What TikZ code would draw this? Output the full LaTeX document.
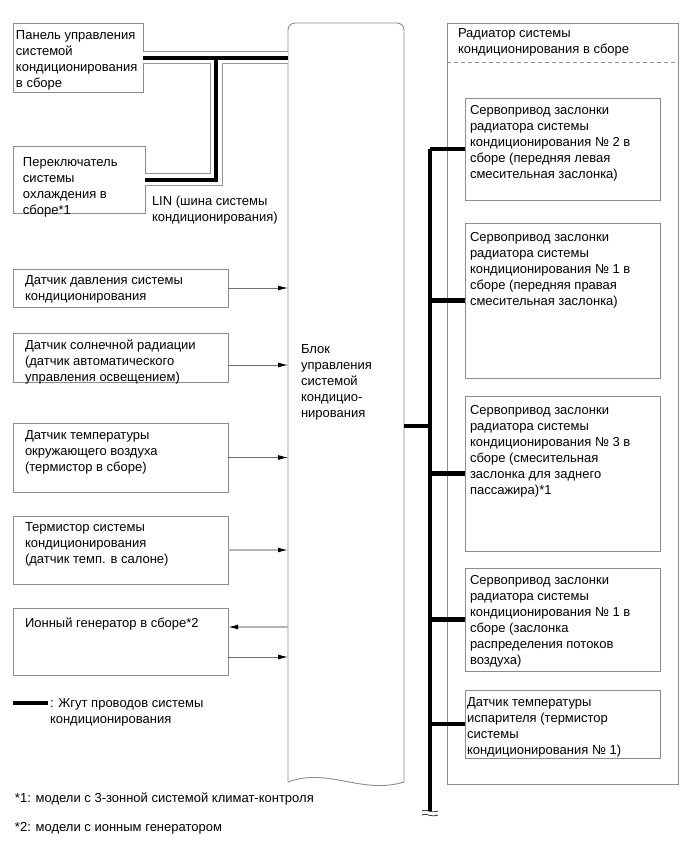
\documentclass[tikz,border=0pt]{standalone}
\usepackage{fontspec}
\setmainfont{Liberation Sans}
\usetikzlibrary{arrows.meta}
\definecolor{bordgray}{RGB}{140,140,140}
\definecolor{linegray}{RGB}{110,110,110}
\definecolor{lightline}{RGB}{180,180,180}
\definecolor{harngray}{RGB}{150,150,150}
\newcommand\ml[1]{\begin{tabular}[t]{@{}l@{}}#1\end{tabular}}
\newcommand\mybox[5]{\node[box, minimum width=#4pt, minimum height=#5pt] (#1) at (#2,#3) {};}
\begin{document}
\begin{tikzpicture}[x=1pt,y=-1pt,
  box/.style={draw=bordgray, line width=0.9pt, rectangle, inner sep=0pt, outer sep=0pt, anchor=north west},
  txt/.style={inner sep=0pt, outer sep=0pt, anchor=base west, font=\fontsize{13}{16}\selectfont},
  arr/.style={draw=linegray, line width=0.9pt, -{Latex[length=10pt,width=5pt,color=black]}},
  arrlt/.style={arr, draw=lightline, line width=1.3pt},
  bus/.style={line width=4.5pt, black},
  cbline/.style={draw=bordgray, line width=0.9pt}]
\useasboundingbox[fill=white] (0,0) rectangle (691,855);

% left boxes
\mybox{s1}{13}{23}{130}{69}
\mybox{s2}{13}{146}{132}{67}
\mybox{s3}{13}{269}{215}{38}
\mybox{s4}{13}{333}{215}{49}
\mybox{s5}{13}{423}{215}{69}
\mybox{s6}{13}{516}{215}{68}
\mybox{s7}{13}{608}{215}{67}

% control block
\node[rectangle, draw=none, inner sep=0pt, outer sep=0pt, anchor=north west,
      minimum width=116pt, minimum height=759pt] (cb) at (288,23) {};
\draw[cbline, rounded corners=7pt] (cb.south west) -- (cb.north west) -- (cb.north east) -- (cb.south east);
\draw[cbline] (cb.south east) .. controls +(-42,13) and +(40,-15) .. (cb.south west);

% radiator assembly
\mybox{rad}{447}{23}{231}{761}
\draw[bordgray, line width=0.9pt, dash pattern=on 4pt off 3pt] (rad.west |- 0,62) -- (rad.east |- 0,62);
\mybox{rA}{465}{98}{195}{102}
\mybox{rB}{465}{223}{195}{155}
\mybox{rC}{465}{396}{195}{155}
\mybox{rD}{465}{568}{195}{103}
\mybox{rE}{465}{690}{195}{68}

% texts
\node[txt] (t1) at (16,39) {\ml{Панель управления\\системой\\кондиционирования\\в сборе}};
\node[txt] (t2) at (23,166) {\ml{Переключатель\\системы\\охлаждения в\\сборе*1}};
\node[txt] (lin) at (152,205) {\ml{LIN (шина системы\\кондиционирования)}};
\node[txt] (t3) at (25,284) {\ml{Датчик давления системы\\кондиционирования}};
\node[txt] (t4) at (25,349) {\ml{Датчик солнечной радиации\\(датчик автоматического\\управления освещением)}};
\node[txt] (t5) at (25,439) {\ml{Датчик температуры\\окружающего воздуха\\(термистор в сборе)}};
\node[txt] (t6) at (25,531) {\ml{Термистор системы\\кондиционирования\\(датчик темп. в салоне)}};
\node[txt] (t7) at (25,627) {\ml{Ионный генератор в сборе*2}};
\node[txt] (cbt) at (301,353) {\ml{Блок\\управления\\системой\\кондицио-\\нирования}};
\node[txt] (radt) at (458,37) {\ml{Радиатор системы\\кондиционирования в сборе}};
\node[txt] (tA) at (470,114) {\ml{Сервопривод заслонки\\радиатора системы\\кондиционирования № 2 в\\сборе (передняя левая\\смесительная заслонка)}};
\node[txt] (tB) at (470,241) {\ml{Сервопривод заслонки\\радиатора системы\\кондиционирования № 1 в\\сборе (передняя правая\\смесительная заслонка)}};
\node[txt] (tC) at (470,414) {\ml{Сервопривод заслонки\\радиатора системы\\кондиционирования № 3 в\\сборе (смесительная\\заслонка для заднего\\пассажира)*1}};
\node[txt] (tD) at (470,584) {\ml{Сервопривод заслонки\\радиатора системы\\кондиционирования № 1 в\\сборе (заслонка\\распределения потоков\\воздуха)}};
\node[txt] (tE) at (467,706) {\ml{Датчик температуры\\испарителя (термистор\\системы\\кондиционирования № 1)}};
\node[txt] (lgt) at (50,707) {\ml{: Жгут проводов системы\\кондиционирования}};
\node[txt] (fn1) at (15,802) {*1: модели с 3-зонной системой климат-контроля};
\node[txt] (fn2) at (15,831) {*2: модели с ионным генератором};

% LIN harness
\coordinate (hj) at (216,0);
\foreach \c/\w in {harngray/13, white/11, black/4}{
  \draw[line width=\w pt, draw=\c, line join=miter] (s1.east) -- (s1.east -| cb.west);
  \draw[line width=\w pt, draw=\c, line join=miter] (hj |- s1.east) -- (hj |- s2.east) -- (s2.east);
}

% sensor arrows
\draw[arr] (s3.east) -- (s3.east -| cb.west);
\draw[arr] ([yshift=-7.5pt]s4.east) -- ([yshift=-7.5pt]s4.east -| cb.west);
\draw[arr] (s5.east) -- (s5.east -| cb.west);
\draw[arrlt] (s6.east) -- (s6.east -| cb.west);
\draw[arrlt] ([yshift=14.5pt]s7.east -| cb.west) -- ([yshift=14.5pt]s7.east);
\draw[arr] ([yshift=-15.5pt]s7.east) -- ([yshift=-15.5pt]s7.east -| cb.west);

% bus
\coordinate (bt) at (430,149);
\coordinate (bb) at (430,811);
\coordinate (bj) at (430,426);
\draw[bus] (bt |- rA.west) -- (bb);
\draw[bus] (cb.east |- bj) -- (bj);
\foreach \r in {rA,rB,rC,rD,rE}{
  \draw[bus] (bt |- \r.west) -- (\r.west);
}
\draw[black, line width=0.6pt] (422,811) .. controls (426,808) and (430,814) .. (438,811);
\draw[black, line width=0.6pt] (422,815) .. controls (426,812) and (430,818) .. (438,815);

% legend
\coordinate (lg1) at (13,703);
\coordinate (lg2) at (48,703);
\draw[line width=4pt, black] (lg1) -- (lg2);
\end{tikzpicture}
\end{document}
